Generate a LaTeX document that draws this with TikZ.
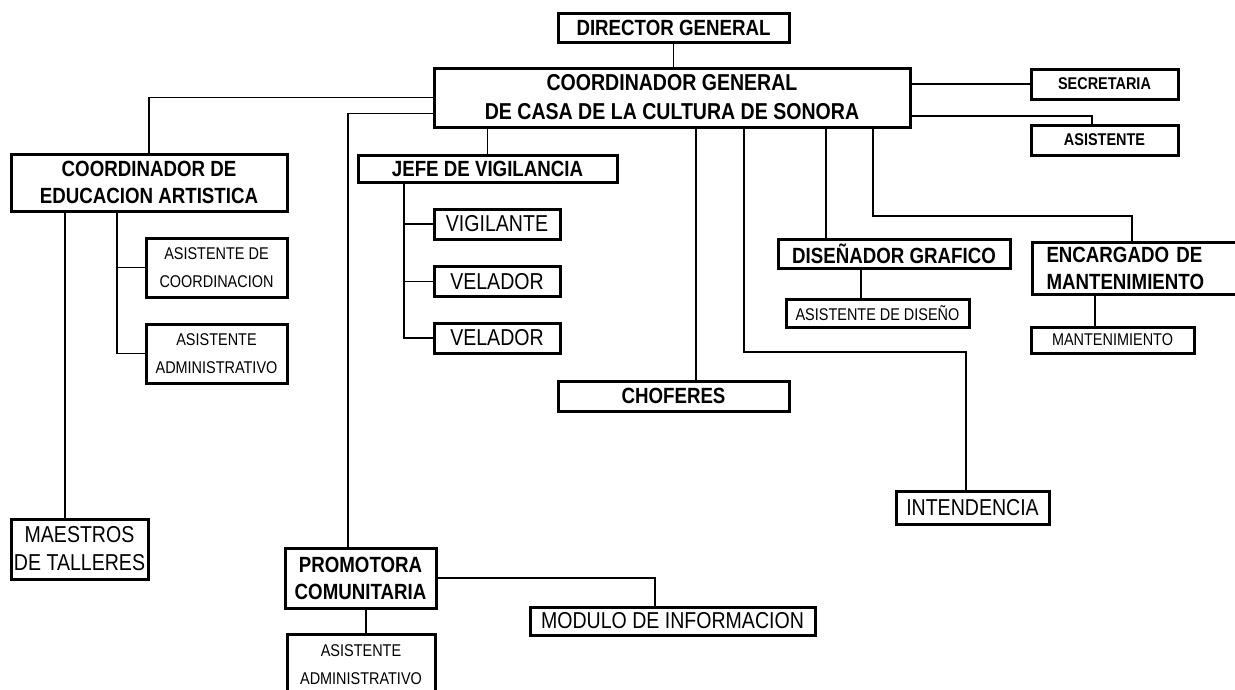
\documentclass[tikz,border=0pt]{standalone}
\usepackage{fontspec}
\setmainfont{Liberation Sans}[FakeStretch=0.85]
\usepackage{tikz}

\tikzset{
  box/.style={draw, line width=3pt, inner sep=2pt, align=center, fill=white},
  link/.style={line width=1.4pt},
  bigtxt/.style={font=\bfseries\fontsize{22}{27}\selectfont},
  midtxt/.style={font=\fontsize{23}{28}\selectfont},
  smalltxt/.style={font=\fontsize{17}{28}\selectfont},
  smallbold/.style={font=\bfseries\fontsize{17}{20}\selectfont}
}

\begin{document}
\begin{tikzpicture}[x=1pt,y=-1pt]
\fill[white] (0,0) rectangle (1235,689);
\useasboundingbox (0,0) rectangle (1235,689);
% top of the chart
\node[box,bigtxt,minimum width=231,minimum height=29] (dir) at (673.5,27.5) {DIRECTOR GENERAL};
\node[box,font=\bfseries\fontsize{23}{29}\selectfont,minimum width=476,minimum height=59] (cg) at (672,97.5) {COORDINADOR GENERAL\\DE CASA DE LA CULTURA DE SONORA};
\node[box,smallbold,minimum width=147,minimum height=30] (secr) at (1104.5,84) {SECRETARIA};
\node[box,smallbold,minimum width=147,minimum height=30] (asis) at (1104.5,140) {ASISTENTE};
% left branch
\node[box,bigtxt,minimum width=276,minimum height=57] (educ) at (149,182.5) {COORDINADOR DE\\EDUCACION ARTISTICA};
\node[box,smalltxt,minimum width=141,minimum height=59] (acoord) at (216.5,267.5) {ASISTENTE DE\\COORDINACION};
\node[box,smalltxt,minimum width=141,minimum height=59] (aadm) at (216.5,353.5) {ASISTENTE\\ADMINISTRATIVO};
\node[box,midtxt,minimum width=137,minimum height=60] (maes) at (79.5,549) {MAESTROS\\DE TALLERES};
% vigilancia
\node[box,bigtxt,minimum width=259,minimum height=27] (jefe) at (487.5,168.5) {JEFE DE VIGILANCIA};
\foreach \n/\y/\t in {vig/224/VIGILANTE,vel1/281.5/VELADOR,vel2/338/VELADOR}
  \node[box,midtxt,minimum width=126,minimum height=30] (\n) at (497,\y) {\t};
\node[box,bigtxt,minimum width=231,minimum height=30] (chof) at (673.5,396) {CHOFERES};
% right branch
\node[box,bigtxt,minimum width=232,minimum height=29] (dis) at (894,253.5) {DISEÑADOR GRAFICO};
\node[box,smalltxt,minimum width=183,minimum height=28] (adis) at (877.5,313) {ASISTENTE DE DISEÑO};
\node[box,bigtxt,anchor=west,text width=190,inner xsep=14pt,minimum height=52,align=left] (enc) at (1031,268) {ENCARGADO DE\\MANTENIMIENTO};
\node[box,smalltxt,minimum width=163,minimum height=26] (mant) at (1112.5,340) {MANTENIMIENTO};
\node[box,midtxt,minimum width=153,minimum height=33] (inte) at (972.5,507.5) {INTENDENCIA};
% promotora
\node[box,bigtxt,minimum width=151,minimum height=60] (prom) at (360.5,578) {PROMOTORA\\COMUNITARIA};
\node[box,midtxt,minimum width=285,minimum height=28] (mod) at (672.5,621) {MODULO DE INFORMACION};
\node[box,smalltxt,minimum width=148,minimum height=61] (aadm2) at (361,664.5) {ASISTENTE\\ADMINISTRATIVO};

\coordinate (eb) at (117,211);
\coordinate (jb) at (404,182);
\coordinate (ib) at (744,352);
\coordinate (kb) at (873,216);

\draw[link] (dir.south) -- (dir.south |- cg.north);
\draw[link] (cg.east |- secr.west) -- (secr.west);
\draw[link] ([yshift=-18.5pt]cg.east) -| ([xshift=-12.5pt]asis.north);
\draw[link] (cg.west) -| (educ.north);
\draw[link] (eb) |- (aadm.west);
\draw[link] (acoord.west) -- (acoord.west -| eb);
\draw[link] ([xshift=-14.5pt]maes.north) -- ([xshift=-14.5pt]maes.north |- educ.south);
\draw[link] (jefe.north) -- (jefe.north |- cg.south);
\draw[link] (jb) |- (vel2.west);
\foreach \n in {vig,vel1}
  \draw[link] (\n.west) -- (\n.west -| jb);
\draw[link] ([xshift=22.5pt]chof.north) -- ([xshift=22.5pt]chof.north |- cg.south);
\draw[link] (ib |- cg.south) -- (ib) -| ([xshift=-6.5pt]inte.north);
\draw[link] ([xshift=-68pt]dis.north) -- ([xshift=-68pt]dis.north |- cg.south);
\draw[link] ([xshift=-16.5pt]adis.north) -- ([xshift=-16.5pt]adis.north |- dis.south);
\draw[link] (kb |- cg.south) -- (kb) -| ([xshift=-9.5pt]enc.north);
\draw[link] ([xshift=-17.5pt]mant.north) -- ([xshift=-17.5pt]mant.north |- enc.south);
\draw[link] ([yshift=-16pt]cg.west) -| ([xshift=-12.5pt]prom.north);
\draw[link] (prom.east) -| ([xshift=-17.5pt]mod.north);
\draw[link] ([xshift=5pt]aadm2.north) -- ([xshift=5pt]aadm2.north |- prom.south);
\end{tikzpicture}
\end{document}
